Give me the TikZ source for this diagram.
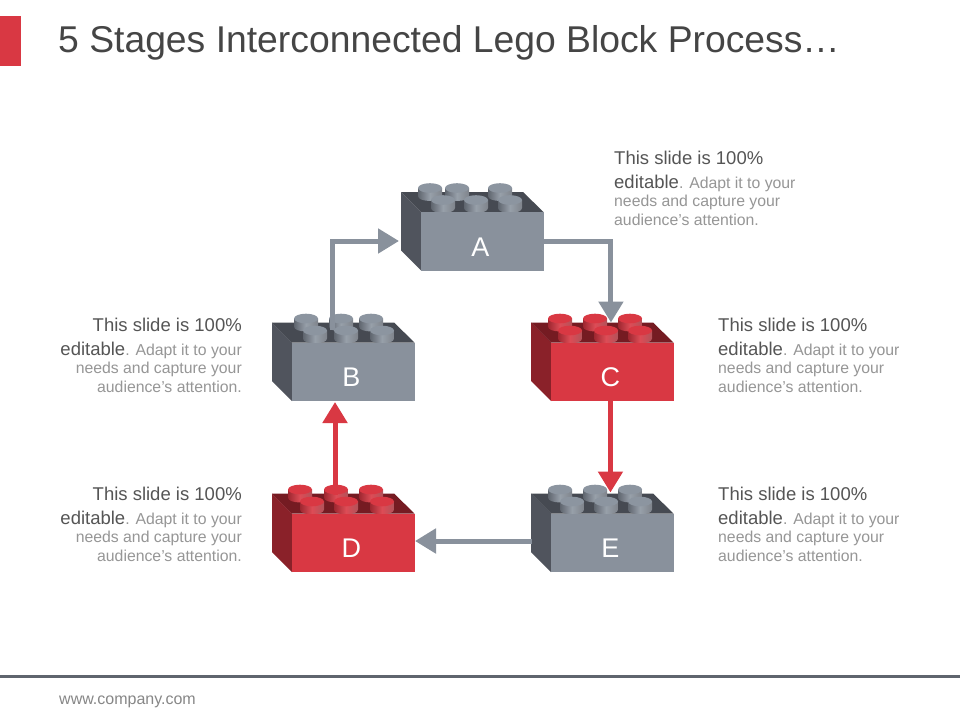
\documentclass[tikz,border=0pt]{standalone}
\usepackage{fontspec}
\setmainfont{Liberation Sans}
\usetikzlibrary{arrows.meta}

\definecolor{greyFront}{HTML}{89919C}
\definecolor{greySide}{HTML}{50545D}
\definecolor{greyTop}{HTML}{464A52}
\definecolor{greyCap}{HTML}{8C95A0}
\definecolor{greyEdge}{HTML}{5F656E}
\definecolor{redFront}{HTML}{D93843}
\definecolor{redSide}{HTML}{8A2129}
\definecolor{redTop}{HTML}{751B22}
\definecolor{redCap}{HTML}{D93843}
\definecolor{redEdge}{HTML}{9E2730}
\definecolor{titlecol}{HTML}{454545}
\definecolor{headcol}{HTML}{555555}
\definecolor{bodycol}{HTML}{969696}

\newcommand{\legostud}[3]{% x, y, colour kind
    \shade[left color=#3Edge,right color=#3Edge!80,middle color=#3Cap!90!white]
        (#1-12,#2) -- (#1-12,#2+8) .. controls (#1-12,#2+14.6) and (#1+12,#2+14.6) .. (#1+12,#2+8) -- (#1+12,#2) -- cycle;
    \fill[#3Cap] (#1,#2) ellipse (12 and 4.8);
}
\newcommand{\hd}{\fontsize{18.5}{19.5}\selectfont\color{headcol}}
\newcommand{\bd}{\fontsize{15.8}{19.5}\selectfont\color{bodycol}}
\newcommand{\blurb}{\hd This slide is 100\%\\[9pt] \hd editable\bd . Adapt it to your\\[3pt] \bd needs and capture your\\[3pt] \bd audience's attention.}

\tikzset{
    face/.style={draw=none,minimum width=122.5,minimum height=58.5,inner sep=0,text=white,font=\fontsize{27}{27}\selectfont},
    txtR/.style={anchor=north west,align=left,inner sep=0},
    txtL/.style={anchor=north east,align=right,inner sep=0},
    flow/.style={line width=5,-{Triangle[length=21,width=24]}},
}

\begin{document}
\begin{tikzpicture}[x=1pt,y=-1pt]
    \useasboundingbox[fill=white] (0,0) rectangle (960,720);
    \fill[redFront] (0,16) rectangle (21,66);
    \node[anchor=base west,inner sep=0,text=titlecol,font=\fontsize{37.3}{37}\selectfont] (title) at (58,52) {5 Stages Interconnected Lego Block Process…};
    \fill[greyEdge] (0,675) rectangle (960,678);
    \node[anchor=base west,inner sep=0,text=bodycol!90!black,font=\fontsize{16}{16}\selectfont] (site) at (59,704) {www.company.com};

    % ends that sit off the middle of a brick
    \coordinate (bTop) at (332,330);
    \coordinate (aLeft) at (399,241);
    \coordinate (eLeft) at (532,541);
    \coordinate (dRight) at (415,541);
    \coordinate (dTop) at (335,495);
    \coordinate (bBot) at (335,402);

    % left, top, name, letter, kind, back studs, front studs
    \foreach \x/\y/\name/\letter/\kind/\backrow/\frontrow in {
        401/192/a/A/grey/{29,56,99}/{42,75,109},
        272/322.5/b/B/grey/{34,69,99}/{43,74,110},
        531/322.5/c/C/red/{29,64,99}/{39,75,109},
        272/493.5/d/D/red/{28,64,99}/{40,74,110},
        531/493.5/e/E/grey/{29,64,99}/{41,75,109}}{
        \begin{scope}[shift={(\x,\y)}]
            \fill[\kind Side] (0,0) -- (20,20) -- (20,78.5) -- (0,58.5) -- cycle;
            \fill[\kind Top] (0,0) -- (122,0) -- (142.5,20) -- (20,20) -- cycle;
            \foreach \sx in \backrow { \legostud{\sx}{-4}{\kind} }
            \foreach \sx in \frontrow { \legostud{\sx}{8}{\kind} }
            \node[face,fill=\kind Front,anchor=north west,name=\name] at (20,20) {\hspace*{-4pt}\raisebox{-15pt}[0pt][0pt]{\letter}};
        \end{scope}
    }

    \draw[flow,greyFront] (bTop) |- (aLeft);
    \draw[flow,greyFront,shorten >=20] (a.east) -| ([xshift=-1.5]c.north);
    \draw[flow,redFront,shorten >=21] ([xshift=-2]c.south) -- ([xshift=-2]e.north);
    \draw[flow,greyFront] (eLeft) -- (dRight);
    \draw[flow,redFront] (dTop) -- (bBot);

    \node[txtR] (ta) at (614,151) {\blurb};
    \node[txtL] (tb) at (242,318) {\blurb};
    \node[txtR] (tc) at (718,318) {\blurb};
    \node[txtL] (td) at (242,487) {\blurb};
    \node[txtR] (te) at (718,487) {\blurb};
\end{tikzpicture}
\end{document}
